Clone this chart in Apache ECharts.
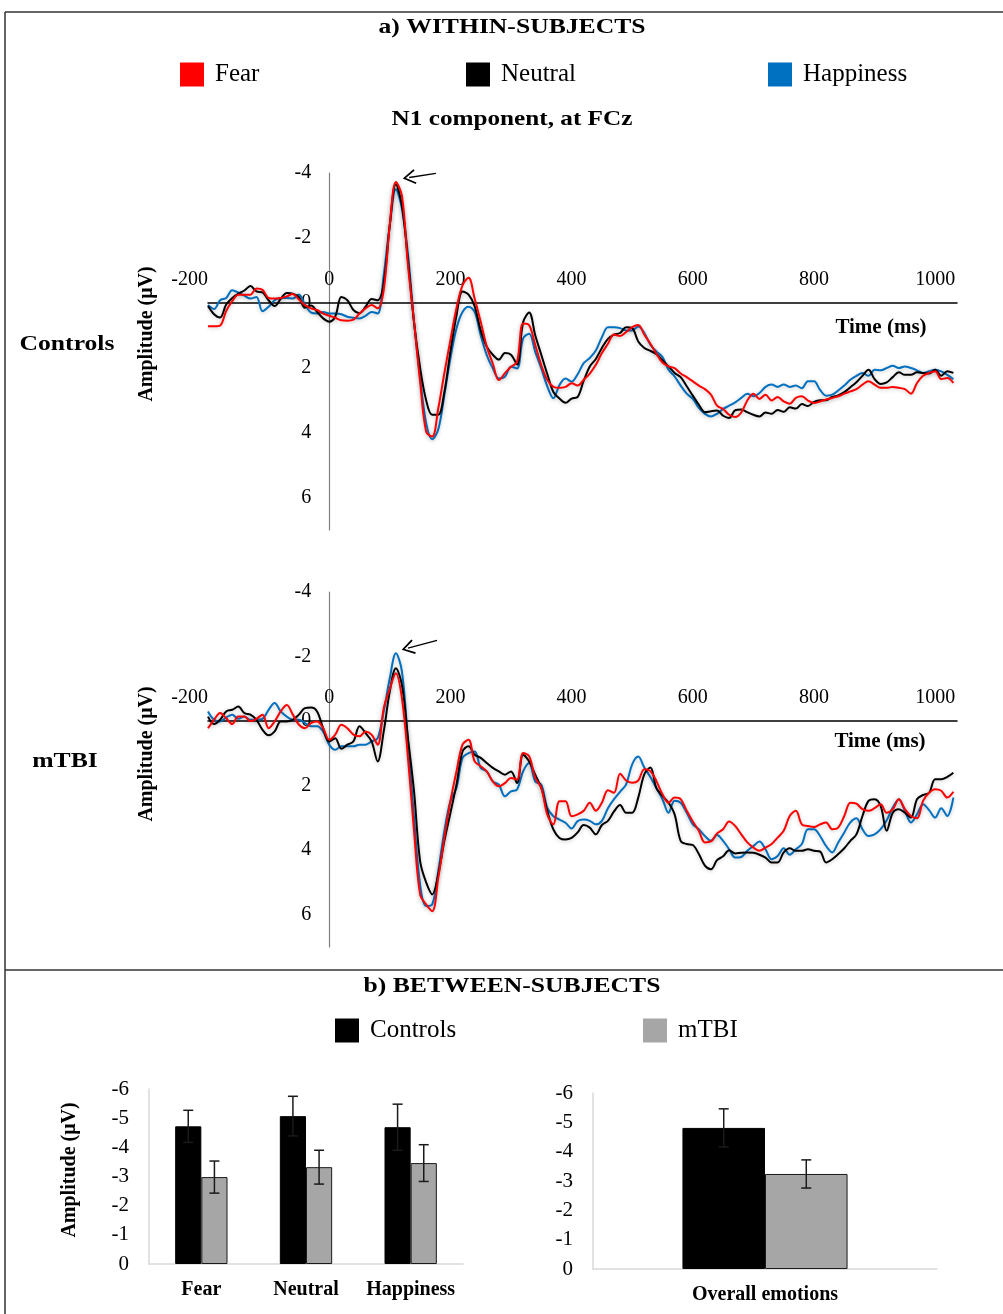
<!DOCTYPE html>
<html>
<head>
<meta charset="utf-8">
<script src="https://cdn.jsdelivr.net/npm/echarts@6/dist/echarts.min.js"></script>
<style>
  html, body { margin: 0; background: #fff; }
  #container { width: 1003px; height: 1314px; }
</style>
</head>
<body>
<div id="container"></div>
<script>
// time base: one sample every 10 ms, -200 .. 1030 ms
var times = [];
for (var t = -200; t <= 1030; t += 10) times.push(t);

var timeTicks = [-200, 0, 200, 400, 600, 800, 1000];
var ampTicks = [-4, -2, 0, 2, 4, 6];

// N1 at FCz, controls (µV, negative up)
var ctrlFear = [
  0.72, 0.72, 0.7, 0.25, -0.05, -0.25, -0.25, -0.25, -0.44, -0.4,
  -0.15, -0.13, -0.15, -0.2, -0.27, -0.1, 0.07, 0.17, 0.22, 0.33,
  0.4, 0.46, 0.54, 0.55, 0.52, 0.33, 0.17, 0.07, 0.17, -0.4,
  -2.4, -3.72, -3.3, -1.16, 0.58, 2.43, 3.97, 4.12, 3.25, 2.17,
  1.15, 0.17, -0.54, -0.77, -0.13, 0.58, 1.35, 1.87, 2.38, 2.17,
  1.97, 1.82, 0.64, 0.69, 1.3, 1.92, 2.38, 2.59, 2.62, 2.59,
  2.48, 2.55, 2.37, 2.18, 1.91, 1.55, 1.26, 0.98, 1.02, 0.9,
  0.75, 0.68, 0.98, 1.26, 1.57, 1.84, 1.96, 2.01, 2.18, 2.29,
  2.42, 2.55, 2.66, 2.83, 3.17, 3.27, 3.45, 3.52, 3.38, 3.01,
  2.8, 2.96, 2.83, 3.01, 2.9, 3.04, 3.11, 2.93, 2.88, 3.01,
  3.09, 3.04, 2.98, 2.93, 2.88, 2.8, 2.73, 2.66, 2.52, 2.42,
  2.52, 2.62, 2.62, 2.59, 2.62, 2.66, 2.8, 2.47, 2.25, 2.16,
  2.11, 2.35, 2.32, 2.47
];
var ctrlNeutral = [
  0.1, 0.35, 0.45, 0.05, -0.15, -0.28, -0.38, -0.52, -0.35, -0.32,
  -0.08, 0.1, -0.12, -0.3, -0.28, -0.18, 0.15, 0.08, 0.28, 0.48,
  0.58, 0.42, -0.18, -0.08, 0.22, 0.32, 0.12, -0.12, -0.08, -0.6,
  -2.4, -3.65, -3.0, -1.3, 0.6, 2.0, 3.0, 3.45, 3.45, 2.75,
  1.5, 0.4, -0.35, -0.25, 0.1, 0.85, 1.35, 1.6, 1.75, 1.55,
  1.6, 1.9, 0.6, 0.3, 1.0, 1.6, 2.2, 2.75, 2.95, 3.08,
  2.95, 2.9, 2.4, 1.96, 1.73, 1.39, 1.11, 0.98, 0.93, 0.75,
  0.78, 1.19, 1.39, 1.48, 1.58, 1.77, 1.96, 2.16, 2.29, 2.57,
  2.86, 3.14, 3.37, 3.34, 3.32, 3.48, 3.55, 3.31, 3.29, 3.37,
  3.45, 3.5, 3.38, 3.42, 3.3, 3.36, 3.22, 3.26, 3.12, 3.18,
  3.05, 3.0, 3.0, 2.9, 2.85, 2.75, 2.6, 2.45, 2.25, 2.06,
  2.35, 2.5, 2.45, 2.29, 2.14, 2.22, 2.22, 2.14, 2.16, 2.18,
  2.06, 2.25, 2.11, 2.16
];
var ctrlHappy = [
  0.07, 0.19, -0.08, -0.15, -0.39, -0.32, -0.22, -0.13, -0.18, 0.26,
  0.12, -0.08, -0.15, -0.15, -0.13, -0.26, 0.05, 0.3, 0.33, 0.28,
  0.33, 0.33, 0.35, 0.43, 0.46, 0.48, 0.4, 0.28, 0.33, -0.85,
  -2.39, -3.5, -2.9, -1.5, 0.6, 2.3, 3.7, 4.2, 3.9, 2.85,
  1.71, 0.79, 0.28, 0.12, 0.28, 1.0, 1.61, 2.02, 2.33, 2.28,
  1.97, 2.02, 1.1, 0.95, 1.51, 2.02, 2.58, 2.94, 2.53, 2.33,
  2.43, 2.2, 1.86, 1.7, 1.47, 1.06, 0.75, 0.75, 0.78, 0.85,
  0.85, 0.73, 0.93, 1.29, 1.5, 1.67, 2.06, 2.27, 2.55, 2.8,
  2.96, 3.24, 3.42, 3.5, 3.42, 3.27, 3.17, 3.07, 2.93, 2.8,
  2.88, 2.78, 2.59, 2.52, 2.59, 2.52, 2.59, 2.55, 2.63, 2.42,
  2.42, 2.68, 2.86, 2.83, 2.7, 2.55, 2.37, 2.25, 2.16, 2.25,
  2.06, 2.08, 2.01, 1.94, 2.01, 1.96, 2.01, 2.08, 2.16, 2.11,
  2.06, 2.11, 2.22, 2.35
];

// N1 at FCz, mTBI
var mtbiFear = [
  0.22, -0.04, -0.25, -0.09, 0.09, -0.14, -0.14, 0, -0.07, -0.2,
  0.22, 0.01, -0.3, -0.5, -0.2, 0.11, 0.22, 0.06, 0.01, 0.22,
  0.58, 0.42, 0.11, 0.22, 0.42, 0.47, 0.32, 0.42, 0.73, -0.4,
  -1.0, -1.48, -0.71, 1.14, 3.41, 5.37, 5.68, 5.89, 4.86, 3.62,
  2.48, 1.56, 0.73, 0.58, 1.25, 1.4, 1.56, 1.87, 2.02, 1.92,
  1.76, 1.81, 0.99, 1.09, 1.76, 2.07, 2.9, 3.2, 2.48, 2.48,
  2.95, 2.89, 2.78, 2.53, 2.78, 2.53, 2.14, 2.22, 1.63, 1.84,
  1.91, 1.84, 1.49, 1.55, 1.86, 2.27, 2.53, 2.37, 2.42, 2.78,
  3.11, 3.4, 3.76, 3.73, 3.48, 3.35, 3.11, 3.25, 3.51, 3.76,
  3.92, 4.02, 3.92, 3.81, 3.61, 3.4, 2.94, 2.78, 3.2, 3.25,
  3.28, 3.2, 3.14, 3.35, 3.3, 2.94, 2.53, 2.56, 2.73, 2.78,
  2.7, 2.58, 2.84, 2.73, 2.42, 2.73, 2.94, 3.01, 2.47, 2.22,
  2.11, 2.16, 2.37, 2.19
];
var mtbiNeutral = [
  -0.14, 0.09, -0.04, -0.3, -0.35, -0.45, -0.25, -0.2, -0.04, 0.27,
  0.44, 0.32, 0.01, 0.01, -0.04, -0.2, -0.4, -0.42, -0.3, 0.22,
  0.63, 0.53, 0.86, 0.73, 0.63, 0.16, 0.37, 0.63, 1.25, 0.32,
  -0.92, -1.64, -1.12, 0.53, 2.18, 4.34, 5.0, 5.37, 4.75, 3.72,
  2.85, 1.97, 0.94, 0.78, 1.04, 1.14, 1.3, 1.45, 1.56, 1.66,
  1.56, 1.92, 1.04, 1.25, 1.66, 2.07, 2.79, 3.36, 3.62, 3.67,
  3.62, 3.45, 3.22, 3.3, 3.51, 3.22, 3.09, 2.8, 2.6, 2.84,
  2.84, 2.37, 1.65, 1.44, 2.08, 2.32, 2.53, 2.89, 3.71, 3.81,
  3.84, 4.12, 4.48, 4.59, 4.31, 4.19, 4.0, 4.1, 4.08, 4.07,
  4.08, 4.14, 4.23, 4.38, 4.38, 4.07, 3.94, 4.02, 4.02, 3.97,
  4.02, 4.04, 4.38, 4.28, 4.12, 3.94, 3.71, 3.51, 2.94, 2.47,
  2.42, 2.63, 3.4, 2.84, 2.73, 2.84, 2.99, 2.42, 2.29, 2.22,
  1.8, 1.8, 1.73, 1.6
];
var mtbiHappy = [
  -0.3, -0.04, 0.01, -0.11, -0.2, -0.07, -0.14, -0.04, -0.04, -0.07,
  -0.35, -0.56, -0.3, -0.14, -0.04, -0.04, 0.06, 0.16, 0.16, 0.32,
  0.73, 0.89, 0.78, 0.78, 0.78, 0.73, 0.73, 0.63, 0.53, -0.3,
  -1.33, -2.1, -1.54, 0.63, 3.0, 5.06, 5.73, 5.68, 4.65, 3.41,
  2.48, 2.07, 1.14, 0.99, 0.94, 1.45, 1.56, 1.87, 1.97, 2.33,
  2.18, 2.12, 1.56, 1.3, 1.87, 1.97, 2.69, 2.95, 3.05, 3.15,
  3.33, 3.1, 3.05, 3.09, 3.2, 3.09, 2.7, 2.42, 2.19, 1.96,
  1.34, 1.1, 1.44, 1.73, 2.08, 2.42, 2.84, 2.47, 2.53, 2.84,
  3.2, 3.35, 3.56, 3.71, 3.53, 3.71, 3.97, 4.23, 4.21, 4.02,
  3.87, 3.73, 3.97, 4.28, 4.18, 3.94, 4.14, 3.97, 3.81, 3.35,
  3.35, 3.56, 3.87, 4.07, 3.76, 3.45, 3.14, 3.01, 3.35, 3.56,
  3.51, 3.35, 3.07, 2.68, 2.42, 2.78, 3.14, 2.89, 2.58, 2.76,
  2.99, 2.7, 2.94, 2.37
];

// N1 peak arrows [from, to] in (ms, µV)
var arrowCtrl = [[176, -3.99], [132, -3.86]];
var arrowMtbi = [[178, -2.5], [130, -2.26]];

// between-subjects bars
var emotions = ['Fear', 'Neutral', 'Happiness'];
var controlsMean = [-4.72, -5.07, -4.69];
var controlsErr = [0.55, 0.68, 0.79];
var mtbiMean = [-2.98, -3.32, -3.46];
var mtbiErr = [0.55, 0.58, 0.63];
var overallCat = ['Overall emotions'];
var overallControls = [-4.81];
var overallControlsErr = [0.65];
var overallMtbi = [-3.24];
var overallMtbiErr = [0.48];
var barTicks = [-6, -5, -4, -3, -2, -1, 0];

var SERIF = "'Liberation Serif', 'Times New Roman', serif";
var RED = '#FF0000', BLACK = '#000000', BLUE = '#0070C0', GREY = '#A6A6A6';

// axis ranges of the two ERP panels
var T_MIN = -200, T_MAX = 1036, A_MIN = -4, A_MAX = 7;
var ercGrids = [
  { left: 208, top: 173, width: 749, height: 357 },
  { left: 208, top: 592, width: 749, height: 355 }
];

function pairs(values) {
  return times.map(function (t, i) { return [t, values[i]]; });
}

function lineSeries(name, values, idx, color, arrow) {
  var s = {
    name: name,
    type: 'line',
    xAxisIndex: idx,
    yAxisIndex: idx,
    data: pairs(values),
    showSymbol: false,
    smooth: 0.35,
    lineStyle: {
      color: color, width: 2,
      shadowColor: 'rgba(0,0,0,0.22)', shadowBlur: 4, shadowOffsetY: 1
    },
    itemStyle: { color: color },
    silent: true
  };
  if (arrow) {
    s.markLine = {
      silent: true,
      symbol: ['none', 'path://M0,10 L5,0 L10,10 L9,10.9 L5,2.6 L1,10.9 Z'],
      symbolSize: [15, 13],
      label: { show: false },
      lineStyle: { color: '#000', width: 1.4, type: 'solid', shadowBlur: 0 },
      data: [[{ coord: arrow[0] }, { coord: arrow[1] }]]
    };
  }
  return s;
}

function errorData(means, errs) {
  return means.map(function (m, i) { return [i, m - errs[i], m + errs[i]]; });
}

function errorSeries(idx, data, shift) {
  return {
    type: 'custom',
    xAxisIndex: idx,
    yAxisIndex: idx,
    z: 5,
    silent: true,
    encode: { x: 0, y: [1, 2] },
    data: data,
    renderItem: function (params, api) {
      var c = api.value(0);
      var band = api.size([1, 0])[0];
      var x = api.coord([c, 0])[0] + band * shift;
      var y1 = api.coord([c, api.value(1)])[1];
      var y2 = api.coord([c, api.value(2)])[1];
      var st = { stroke: '#1a1a1a', lineWidth: 1.5 };
      return {
        type: 'group',
        children: [
          { type: 'line', shape: { x1: x, y1: y1, x2: x, y2: y2 }, style: st },
          { type: 'line', shape: { x1: x - 5, y1: y1, x2: x + 5, y2: y1 }, style: st },
          { type: 'line', shape: { x1: x - 5, y1: y2, x2: x + 5, y2: y2 }, style: st }
        ]
      };
    }
  };
}

// time axis drawn across the 0 µV line, labels above it
function timeAxis(idx) {
  var g = ercGrids[idx];
  var zeroDown = g.height * (0 - A_MIN) / (A_MAX - A_MIN);
  return {
    gridIndex: idx, type: 'value', min: T_MIN, max: T_MAX, interval: 200,
    position: 'top', offset: -zeroDown,
    axisLine: { onZero: false, lineStyle: { color: '#000', width: 1.5 } },
    axisTick: { show: false },
    splitLine: { show: false },
    axisLabel: {
      margin: 13, fontFamily: SERIF, fontSize: 20, color: '#000',
      alignMinLabel: 'right',
      formatter: function (v) { return timeTicks.indexOf(v) >= 0 ? String(v) : ''; }
    }
  };
}

// amplitude axis drawn at 0 ms, negative up
function ampAxis(idx) {
  var g = ercGrids[idx];
  var zeroRight = g.width * (0 - T_MIN) / (T_MAX - T_MIN);
  return {
    gridIndex: idx, type: 'value', inverse: true, min: A_MIN, max: A_MAX, interval: 2,
    position: 'left', offset: -zeroRight,
    axisLine: { show: true, onZero: false, lineStyle: { color: '#808080', width: 1.2 } },
    axisTick: { show: false },
    splitLine: { show: false },
    axisLabel: {
      margin: 18, fontFamily: SERIF, fontSize: 20, color: '#000',
      formatter: function (v) { return ampTicks.indexOf(v) >= 0 ? String(v) : ''; }
    }
  };
}

function catAxis(idx, cats) {
  return {
    gridIndex: idx, type: 'category', data: cats,
    axisLine: { lineStyle: { color: '#d9d9d9', width: 1.5 } },
    axisTick: { show: false },
    axisLabel: { interval: 0, margin: 16, fontFamily: SERIF, fontSize: 20, fontWeight: 'bold', color: '#000' }
  };
}

function barValueAxis(idx) {
  return {
    gridIndex: idx, type: 'value', inverse: true, min: -6, max: 0, interval: 1,
    axisLine: { show: true, lineStyle: { color: '#d9d9d9', width: 1.5 } },
    axisTick: { show: false },
    splitLine: { show: false },
    axisLabel: {
      margin: 20, fontFamily: SERIF, fontSize: 21, color: '#000',
      formatter: function (v) { return barTicks.indexOf(v) >= 0 ? String(v) : ''; }
    }
  };
}

function legendItem(name, left, top) {
  return {
    data: [name], left: left, top: top, padding: 0,
    selectedMode: false, icon: 'rect', itemWidth: 24, itemHeight: 24,
    itemStyle: { borderWidth: 0, shadowBlur: 0 },
    textStyle: { fontFamily: SERIF, fontSize: 25, color: '#000', padding: [0, 0, 0, 6] }
  };
}

function label(text, x, y, size, sx, rot) {
  return {
    type: 'text', x: x, y: y, rotation: rot || 0, scaleX: sx || 1,
    style: {
      text: text, fill: '#000',
      font: 'bold ' + size + 'px ' + SERIF,
      align: 'center', verticalAlign: 'middle',
      textAlign: 'center', textVerticalAlign: 'middle'
    }
  };
}

function frame(x1, y1, x2, y2) {
  return { type: 'line', shape: { x1: x1, y1: y1, x2: x2, y2: y2 }, style: { stroke: '#333', lineWidth: 1.5 } };
}

var option = {
  backgroundColor: '#fff',
  animation: false,
  grid: [
    ercGrids[0],
    ercGrids[1],
    { left: 149, top: 1089, width: 314, height: 175 },
    { left: 593, top: 1093, width: 344, height: 176 }
  ],
  xAxis: [timeAxis(0), timeAxis(1), catAxis(2, emotions), catAxis(3, overallCat)],
  yAxis: [ampAxis(0), ampAxis(1), barValueAxis(2), barValueAxis(3)],
  legend: [
    legendItem('Fear', 180, 62),
    legendItem('Neutral', 466, 62),
    legendItem('Happiness', 768, 62),
    legendItem('Controls', 335, 1018),
    legendItem('mTBI', 643, 1018)
  ],
  graphic: [
    frame(5, 12, 1003, 12),
    frame(5, 12, 5, 1314),
    frame(5, 970, 1003, 970),
    label('a) WITHIN-SUBJECTS', 512, 28, 21, 1.22),
    label('N1 component, at FCz', 512, 120, 21, 1.2),
    label('Controls', 67, 345, 21, 1.22),
    label('mTBI', 65, 762, 21, 1.22),
    label('Time (ms)', 881, 328, 21),
    label('Time (ms)', 880, 742, 21),
    label('Amplitude (\u03bcV)', 147, 334, 20, 1, Math.PI / 2),
    label('Amplitude (\u03bcV)', 147, 754, 20, 1, Math.PI / 2),
    label('Amplitude (\u03bcV)', 70, 1170, 20, 1, Math.PI / 2),
    label('b) BETWEEN-SUBJECTS', 512, 987, 21, 1.22)
  ],
  series: [
    lineSeries('Happiness', ctrlHappy, 0, BLUE),
    lineSeries('Neutral', ctrlNeutral, 0, BLACK),
    lineSeries('Fear', ctrlFear, 0, RED, arrowCtrl),
    lineSeries('Happiness', mtbiHappy, 1, BLUE),
    lineSeries('Neutral', mtbiNeutral, 1, BLACK),
    lineSeries('Fear', mtbiFear, 1, RED, arrowMtbi),
    {
      name: 'Controls', type: 'bar', xAxisIndex: 2, yAxisIndex: 2,
      data: controlsMean, barWidth: '25%', barGap: '0%',
      itemStyle: { color: BLACK, borderColor: '#000', borderWidth: 1 }
    },
    {
      name: 'mTBI', type: 'bar', xAxisIndex: 2, yAxisIndex: 2,
      data: mtbiMean, barWidth: '25%', barGap: '0%',
      itemStyle: { color: GREY, borderColor: '#1a1a1a', borderWidth: 1 }
    },
    errorSeries(2, errorData(controlsMean, controlsErr), -0.125),
    errorSeries(2, errorData(mtbiMean, mtbiErr), 0.125),
    {
      name: 'Controls', type: 'bar', xAxisIndex: 3, yAxisIndex: 3,
      data: overallControls, barWidth: '24%', barGap: '0%',
      itemStyle: { color: BLACK, borderColor: '#000', borderWidth: 1 }
    },
    {
      name: 'mTBI', type: 'bar', xAxisIndex: 3, yAxisIndex: 3,
      data: overallMtbi, barWidth: '24%', barGap: '0%',
      itemStyle: { color: GREY, borderColor: '#1a1a1a', borderWidth: 1 }
    },
    errorSeries(3, errorData(overallControls, overallControlsErr), -0.12),
    errorSeries(3, errorData(overallMtbi, overallMtbiErr), 0.12)
  ]
};

var dom = document.getElementById('container');
var myChart = echarts.init(dom, null, { renderer: 'canvas' });
myChart.setOption(option);
</script>
</body>
</html>
